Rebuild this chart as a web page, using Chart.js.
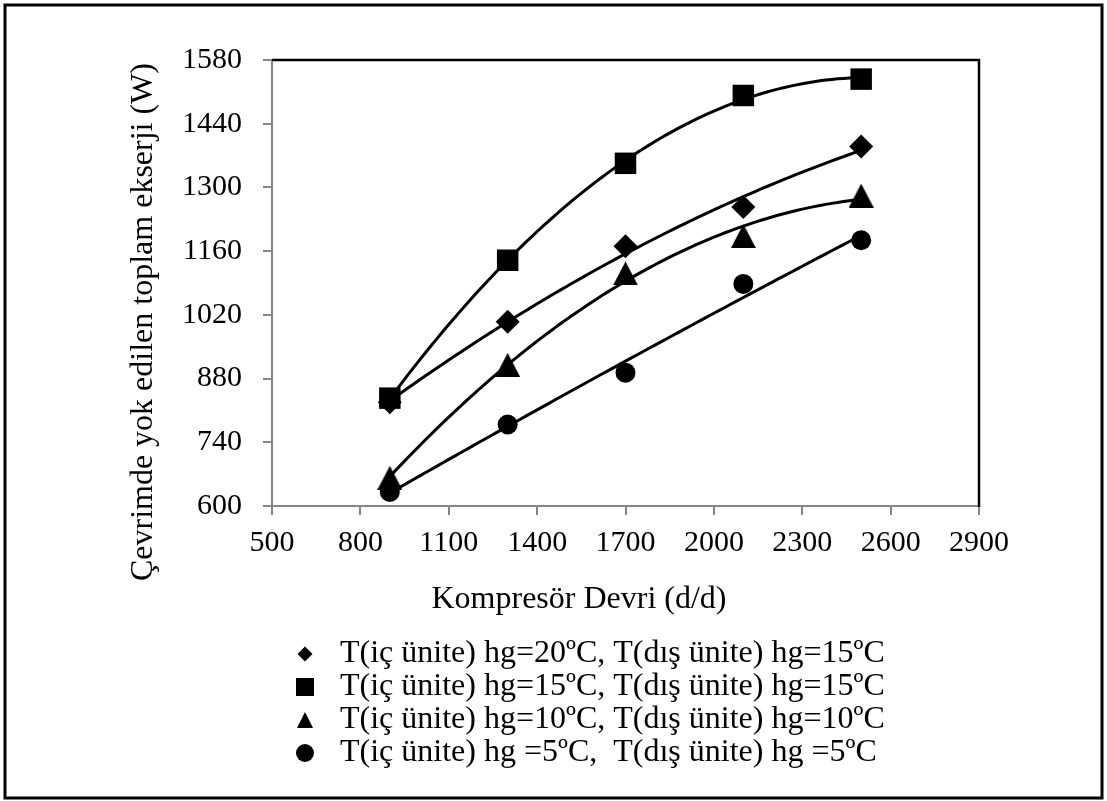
<!DOCTYPE html>
<html>
<head>
<meta charset="utf-8">
<script src="https://cdn.jsdelivr.net/npm/chart.js@4.4.1/dist/chart.umd.min.js"></script>
<style>
  html, body { margin: 0; padding: 0; background: #fff; }
  #wrap { width: 1107px; height: 801px; }
</style>
</head>
<body>
<div id="wrap"><canvas id="chart" width="1107" height="801"></canvas></div>
<script>
// Compressor speed (d/d) at which each case was measured
const speeds = [900, 1300, 1700, 2100, 2500];

// Total exergy destroyed in the cycle (W), one array per indoor/outdoor air temperature case
const exergy20_15 = [828, 1005, 1171, 1257, 1390];
const exergy15_15 = [837, 1140, 1353, 1502, 1538];
const exergy10_10 = [662, 910, 1111, 1193, 1282];
const exergy5_5   = [631, 779, 893, 1088, 1184];

const seriesLabels = [
  'T(iç ünite) hg=20ºC, T(dış ünite) hg=15ºC',
  'T(iç ünite) hg=15ºC, T(dış ünite) hg=15ºC',
  'T(iç ünite) hg=10ºC, T(dış ünite) hg=10ºC',
  'T(iç ünite) hg =5ºC,  T(dış ünite) hg =5ºC'
];

// Axis ranges and tick spacing
const xTickRange = [500, 2900, 300];
const yTickRange = [600, 1580, 140];

const xTitle = 'Kompresör Devri (d/d)';
const yTitle = 'Çevrimde yok edilen toplam ekserji (W)';

const FONT = "'Liberation Serif', 'Times New Roman', serif";
const AXIS_GREY = '#868686';

// Second-order polynomial trend line (least squares) through a series
function quadraticTrend(xs, ys) {
  const n = xs.length;
  const mx = xs.reduce((a, b) => a + b, 0) / n;
  const sc = 400;
  const S = [0, 0, 0, 0, 0], T = [0, 0, 0];
  xs.forEach((x, i) => {
    const t = (x - mx) / sc;
    for (let k = 0; k < 5; k++) S[k] += Math.pow(t, k);
    for (let k = 0; k < 3; k++) T[k] += ys[i] * Math.pow(t, k);
  });
  const A = [[S[0], S[1], S[2], T[0]], [S[1], S[2], S[3], T[1]], [S[2], S[3], S[4], T[2]]];
  for (let i = 0; i < 3; i++) {
    for (let j = i + 1; j < 3; j++) {
      const f = A[j][i] / A[i][i];
      for (let k = i; k < 4; k++) A[j][k] -= f * A[i][k];
    }
  }
  const c = [0, 0, 0];
  for (let i = 2; i >= 0; i--) {
    let s = A[i][3];
    for (let k = i + 1; k < 3; k++) s -= A[i][k] * c[k];
    c[i] = s / A[i][i];
  }
  const f = x => { const t = (x - mx) / sc; return c[0] + c[1] * t + c[2] * t * t; };
  const pts = [];
  for (let x = xs[0]; x <= xs[n - 1]; x += 20) pts.push({ x, y: f(x) });
  return pts;
}

// Upright triangle marker centred on its bounding box
function triangleMarker(w, h) {
  const c = document.createElement('canvas');
  c.width = w; c.height = h;
  const g = c.getContext('2d');
  g.fillStyle = '#000';
  g.beginPath();
  g.moveTo(w / 2, 0); g.lineTo(w, h); g.lineTo(0, h); g.closePath();
  g.fill();
  return c;
}

const toPoints = ys => speeds.map((x, i) => ({ x, y: ys[i] }));

const series = [
  { values: exergy20_15, style: 'rectRot', radius: 12, legendSize: 7.5 },
  { values: exergy15_15, style: 'rect', radius: 15.2, legendSize: 9 },
  { values: exergy10_10, style: triangleMarker(25, 24), radius: 12, legendSize: 8 },
  { values: exergy5_5, style: 'circle', radius: 10, legendSize: 9 }
];

const datasets = [];
series.forEach((s, i) => {
  datasets.push({
    label: seriesLabels[i],
    data: toPoints(s.values),
    showLine: false,
    pointStyle: s.style,
    pointRadius: s.radius,
    pointHoverRadius: s.radius,
    pointBackgroundColor: '#000',
    pointBorderWidth: 0,
    order: 1
  });
});
series.forEach(s => {
  datasets.push({
    label: '',
    data: quadraticTrend(speeds, s.values),
    showLine: true,
    borderColor: '#000',
    borderWidth: 3,
    pointRadius: 0,
    tension: 0,
    order: 2
  });
});

// Background, outer frame, plot-area border, axis titles and legend
const decorations = {
  id: 'decorations',
  beforeDraw(chart) {
    const ctx = chart.ctx;
    ctx.save();
    ctx.fillStyle = '#fff';
    ctx.fillRect(0, 0, chart.width, chart.height);
    ctx.restore();
  },
  afterDraw(chart) {
    const ctx = chart.ctx;
    const a = chart.chartArea;
    ctx.save();

    // plot area top/right border
    ctx.strokeStyle = '#000';
    ctx.lineWidth = 2.5;
    ctx.beginPath();
    ctx.moveTo(a.left, a.top);
    ctx.lineTo(a.right, a.top);
    ctx.lineTo(a.right, a.bottom + 1);
    ctx.stroke();

    // outer frame
    ctx.lineWidth = 3;
    ctx.strokeRect(5, 5, chart.width - 10, chart.height - 8);

    // axis titles
    ctx.fillStyle = '#000';
    ctx.font = '32px ' + FONT;
    ctx.textAlign = 'center';
    ctx.textBaseline = 'alphabetic';
    ctx.fillText(xTitle, 579, 608);

    ctx.save();
    ctx.translate(152, 63);
    ctx.rotate(-Math.PI / 2);
    ctx.textAlign = 'right';
    ctx.fillText(yTitle, 0, 0);
    ctx.restore();

    // legend
    const rows = [662, 695, 728, 761];
    const markerX = 305, textX = 340;
    chart.data.datasets.slice(0, series.length).forEach((ds, i) => {
      const baseline = rows[i];
      const cy = baseline - 8;
      const r = series[i].legendSize;
      ctx.fillStyle = '#000';
      ctx.beginPath();
      if (ds.pointStyle === 'rectRot') {
        ctx.moveTo(markerX, cy - r); ctx.lineTo(markerX + r, cy);
        ctx.lineTo(markerX, cy + r); ctx.lineTo(markerX - r, cy);
      } else if (ds.pointStyle === 'rect') {
        ctx.rect(markerX - r, cy - r, 2 * r, 2 * r);
      } else if (ds.pointStyle === 'circle') {
        ctx.arc(markerX, cy, r, 0, Math.PI * 2);
      } else {
        ctx.moveTo(markerX, cy - r); ctx.lineTo(markerX + r, cy + r);
        ctx.lineTo(markerX - r, cy + r);
      }
      ctx.closePath();
      ctx.fill();
      ctx.textAlign = 'left';
      ctx.fillText(ds.label, textX, baseline);
    });
    ctx.restore();
  }
};

new Chart(document.getElementById('chart'), {
  type: 'scatter',
  data: { datasets },
  options: {
    responsive: false,
    animation: false,
    events: [],
    layout: { padding: { left: 122, top: 60, right: 128, bottom: 235 } },
    plugins: { legend: { display: false }, tooltip: { enabled: false } },
    scales: {
      x: {
        type: 'linear',
        min: xTickRange[0], max: xTickRange[1],
        afterFit: s => { s.height = 60; },
        ticks: {
          stepSize: xTickRange[2],
          color: '#000',
          padding: 10,
          maxRotation: 0,
          callback: v => String(v),
          font: { family: FONT, size: 30 }
        },
        grid: { drawOnChartArea: false, drawTicks: true, tickLength: 9, color: AXIS_GREY, lineWidth: 2 },
        border: { display: true, color: AXIS_GREY, width: 2 }
      },
      y: {
        type: 'linear',
        min: yTickRange[0], max: yTickRange[1],
        afterFit: s => { s.width = 150; },
        ticks: {
          stepSize: yTickRange[2],
          color: '#000',
          padding: 21,
          callback: v => String(v),
          font: { family: FONT, size: 30 }
        },
        grid: { drawOnChartArea: false, drawTicks: true, tickLength: 9, color: AXIS_GREY, lineWidth: 2 },
        border: { display: true, color: AXIS_GREY, width: 2 }
      }
    }
  },
  plugins: [decorations]
});
</script>
</body>
</html>
